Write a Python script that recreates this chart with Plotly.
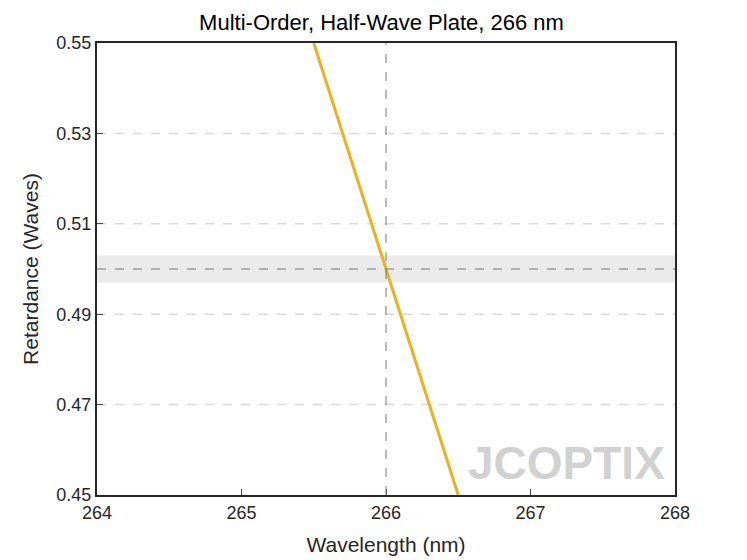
import plotly.graph_objects as go

wavelength = [265.5, 266.0, 266.5]
retardance = [0.55, 0.50, 0.45]
y_ticks = [0.45, 0.47, 0.49, 0.51, 0.53, 0.55]
x_ticks = [264, 265, 266, 267, 268]

fig = go.Figure()
# tolerance band
fig.add_hrect(y0=0.497, y1=0.503, fillcolor="#ebebeb", line_width=0, layer="below")
for yv in [0.47, 0.49, 0.51, 0.53]:
    fig.add_hline(y=yv, line=dict(color="#d9d9d9", width=1.5, dash="dash"), layer="below")
fig.add_hline(y=0.5, line=dict(color="#777777", width=1, dash="dash"))
fig.add_vline(x=266, line=dict(color="#777777", width=1, dash="dash"))

fig.add_trace(go.Scatter(x=wavelength, y=retardance, mode="lines",
                         line=dict(color="#EDB120", width=3), showlegend=False))

fig.add_annotation(x=1, y=0, xref="paper", yref="paper", xanchor="right", yanchor="bottom",
                   text="<b>JCOPTIX</b>", showarrow=False, xshift=-8, yshift=4,
                   font=dict(family="Liberation Sans", size=46, color="rgba(150,150,150,0.45)"))

fig.update_layout(
    width=747, height=560, plot_bgcolor="white", paper_bgcolor="white",
    margin=dict(l=89, r=80, t=35, b=73, autoexpand=False),
    title=dict(text="Multi-Order, Half-Wave Plate, 266 nm", x=0.5, xanchor="center",
               y=0.988, yanchor="top", automargin=False,
               font=dict(family="Arial", size=22, color="black")),
    font=dict(family="Arial", size=18, color="#262626"),
)
fig.update_xaxes(range=[264, 268], tickvals=x_ticks, showgrid=False, zeroline=False,
                 showline=True, linecolor="#262626", linewidth=2, mirror=True, automargin=False,
                 ticks="inside", ticklen=6, title=dict(text="Wavelength (nm)", font=dict(size=21), standoff=16))
fig.update_yaxes(range=[0.45, 0.55], tickvals=y_ticks, tickformat=".2f", showgrid=False, zeroline=False,
                 showline=True, linecolor="#262626", linewidth=2, mirror=True, automargin=False,
                 ticks="inside", ticklen=6, title=dict(text="Retardance (Waves)", font=dict(size=21), standoff=12))

fig.write_html("out.html")
